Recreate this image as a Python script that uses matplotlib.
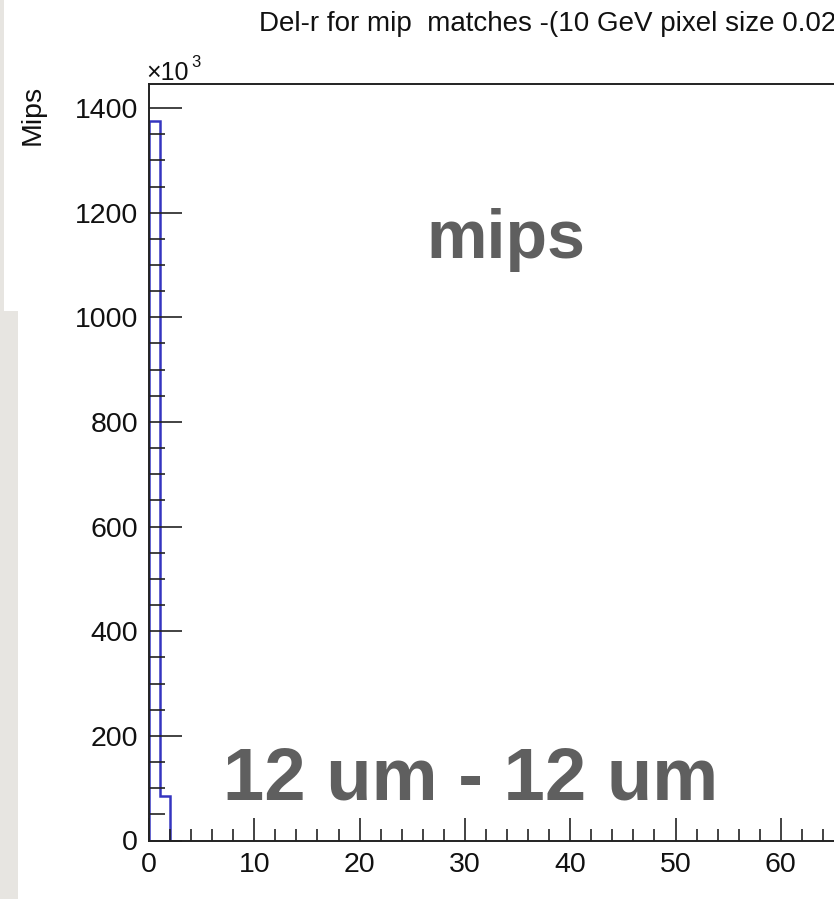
import matplotlib
matplotlib.use("Agg")
import matplotlib.pyplot as plt
from matplotlib.ticker import MultipleLocator, FixedLocator, FuncFormatter
from matplotlib.patches import Rectangle

# ---- data ----
bin_edges = [0, 1, 2]
counts = [1375000, 85000]
x_major_ticks = [0, 10, 20, 30, 40, 50, 60]
x_minor = 2
y_major = 200000
y_minor = 50000

title = "Del-r for mip  matches -(10 GeV pixel size 0.02"
ylabel = "Mips"
note_top = "mips"
note_bottom = "12 um - 12 um"

W, H = 834, 899
DPI = 100
plt.rcParams['font.family'] = ['Liberation Sans', 'DejaVu Sans']

fig = plt.figure(figsize=(W / DPI, H / DPI), dpi=DPI, facecolor='white')

# slide background strips on the left
gray = '#e7e5e1'
fig.patches.append(Rectangle((0, 1 - 311 / H), 4 / W, 311 / H, transform=fig.transFigure,
                             facecolor=gray, edgecolor='none', zorder=-10))
fig.patches.append(Rectangle((0, 0), 18 / W, 1 - 311 / H, transform=fig.transFigure,
                             facecolor=gray, edgecolor='none', zorder=-10))

px_per_x = 10.53
x_max = 80
left_px, right_px = 149, 149 + x_max * px_per_x
top_px, bot_px = 84, 840.5
ax = fig.add_axes([left_px / W, 1 - bot_px / H, (right_px - left_px) / W, (bot_px - top_px) / H])
ax.set_xlim(0, x_max)
ax.set_ylim(0, 1446000)

ax.stairs(counts, bin_edges, baseline=0, color='#3535c0', linewidth=1.8)

for s in ax.spines.values():
    s.set_linewidth(1.4)
    s.set_color('#222222')

ax.xaxis.set_major_locator(FixedLocator(x_major_ticks))
ax.xaxis.set_minor_locator(MultipleLocator(x_minor))
ax.yaxis.set_major_locator(MultipleLocator(y_major))
ax.yaxis.set_minor_locator(MultipleLocator(y_minor))
ax.yaxis.set_major_formatter(FuncFormatter(lambda v, p: f"{v/1000:.0f}"))

ax.tick_params(axis='both', which='both', direction='in', color='#222222', width=1.2,
               labelsize=20.5, labelcolor='#111111')
ax.tick_params(axis='y', which='major', length=23.8, pad=8)
ax.tick_params(axis='y', which='minor', length=11.5)
ax.tick_params(axis='x', which='major', length=16.6, pad=8)
ax.tick_params(axis='x', which='minor', length=8.6)

# title and labels
fig.text(259 / W, 1 - 30.7 / H, title, fontsize=20, ha='left', va='baseline', color='#111111')
fig.text(33 / W, 1 - 85 / H, ylabel, rotation=90, fontsize=20.5, ha='center', va='top', color='#111111')
fig.text(146 / W, 1 - 80 / H, "\u00d710", fontsize=18, ha='left', va='baseline', color='#111111')
fig.text(191 / W, 1 - 67 / H, "3", fontsize=12, ha='left', va='baseline', color='#111111')

# overlay annotations
fig.text(506 / W, 1 - 258 / H, note_top, fontsize=49, fontweight='bold', ha='center',
         va='baseline', color='#5f5f5f')
fig.text(471 / W, 1 - 799 / H, note_bottom, fontsize=53.5, fontweight='bold', ha='center',
         va='baseline', color='#5f5f5f')

fig.savefig("out.png", dpi=DPI, facecolor='white')
